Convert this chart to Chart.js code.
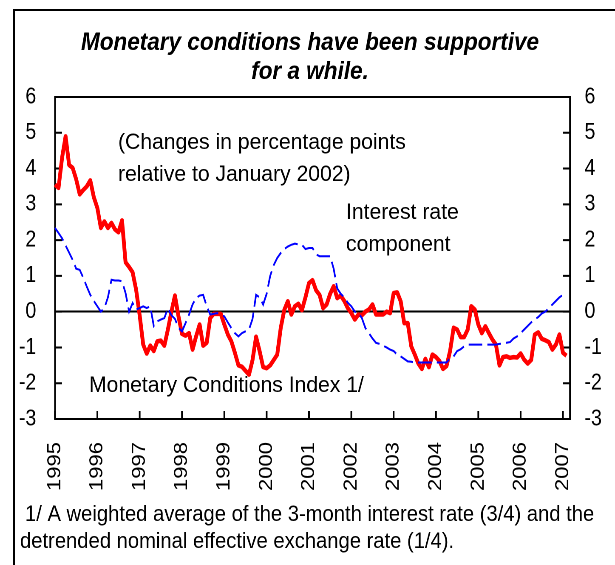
<!DOCTYPE html>
<html>
<head>
<meta charset="utf-8">
<script src="https://cdn.jsdelivr.net/npm/chart.js@4.4.1/dist/chart.umd.min.js"></script>
<style>
  html, body { margin: 0; padding: 0; background: #fff; }
  #page { position: relative; width: 615px; height: 565px; overflow: hidden; }
  #frame { position: absolute; left: 13px; top: 9px; width: 700px; height: 700px;
           border-left: 2px solid #000; border-top: 2px solid #000; }
  /* the original picture is squeezed sideways, so the whole chart is drawn wider and scaled back */
  #wrap { position: absolute; left: 0; top: 0; width: 724px; height: 565px;
          transform: scaleX(0.85); transform-origin: 0 0; }
</style>
</head>
<body>
<div id="page">
  <div id="frame"></div>
  <div id="wrap"><canvas id="grafico"></canvas></div>
</div>
<script>
// ---- data (monthly, Jan 1995 - Feb 2007) ----
const anos = ['1995', '1996', '1997', '1998', '1999', '2000', '2001',
              '2002', '2003', '2004', '2005', '2006', '2007'];
const nomesMes = ['Jan', 'Feb', 'Mar', 'Apr', 'May', 'Jun', 'Jul', 'Aug', 'Sep', 'Oct', 'Nov', 'Dec'];

const yTicks = [-3, -2, -1, 0, 1, 2, 3, 4, 5, 6];

// Monetary Conditions Index 1/
const mci = [
   3.55,  3.46,  4.30,  4.90,  4.10,  4.02,  3.70,  3.28,  3.40,  3.50,  3.67,  3.20,
   2.90,  2.34,  2.52,  2.34,  2.48,  2.30,  2.22,  2.55,  1.38,  1.25,  1.10,  0.61,
  -0.10, -0.92, -1.17, -0.95, -1.10, -0.83, -0.81, -0.95, -0.50,  0.00,  0.45, -0.13,
  -0.62, -0.67, -0.60, -1.06, -0.69, -0.36, -0.95, -0.87, -0.18, -0.06, -0.06, -0.06,
  -0.36, -0.64, -0.83, -1.15, -1.50, -1.54, -1.65, -1.76, -1.35, -0.70, -1.10, -1.55,
  -1.58, -1.50, -1.35, -1.20, -0.45,  0.05,  0.29, -0.08,  0.15,  0.22,  0.04,  0.40,
   0.80,  0.88,  0.60,  0.47,  0.10,  0.20,  0.50,  0.71,  0.38,  0.45,  0.30,  0.10,
  -0.04, -0.22, -0.08, -0.10,  0.00,  0.06,  0.20, -0.08, -0.08, -0.08,  0.00, -0.04,
   0.52,  0.54,  0.29, -0.32, -0.32, -0.97, -1.20, -1.45, -1.60, -1.32, -1.55, -1.20,
  -1.27, -1.38, -1.60, -1.52, -1.10, -0.45, -0.50, -0.71, -0.71, -0.50,  0.15,  0.06,
  -0.36, -0.60, -0.41, -0.60, -0.78, -0.92, -1.50, -1.27, -1.25, -1.29, -1.27, -1.28,
  -1.17, -1.34, -1.45, -1.35, -0.64, -0.58, -0.76, -0.80, -0.85, -1.06, -0.92, -0.64,
  -1.15, -1.23
];

// Interest rate component
const juros = [
   2.34,  2.20,  2.05,  1.85,  1.65,  1.45,  1.20,  1.17,  0.95,  0.70,  0.47,  0.30,
   0.15,  0.00,  0.10,  0.40,  0.89,  0.87,  0.87,  0.85,  0.52,  0.00,  0.24,  0.06,
   0.10,  0.15,  0.10,  0.15, -0.40, -0.27, -0.22, -0.18,  0.10, -0.10, -0.20, -0.45,
  -0.55, -0.32, -0.08,  0.20,  0.38,  0.45,  0.47,  0.15, -0.08, -0.06, -0.04, -0.10,
  -0.13, -0.30, -0.46, -0.60, -0.69, -0.60, -0.55, -0.50, -0.20,  0.47,  0.40,  0.20,
   0.50,  1.00,  1.30,  1.50,  1.64,  1.75,  1.82,  1.87,  1.90,  1.88,  1.87,  1.75,
   1.78,  1.78,  1.60,  1.55,  1.55,  1.55,  1.55,  1.20,  0.65,  0.50,  0.40,  0.25,
   0.15,  0.00, -0.04, -0.18, -0.46, -0.60, -0.75, -0.87, -0.90, -0.95, -1.00, -1.06,
  -1.10, -1.20, -1.25, -1.32, -1.39, -1.40, -1.42, -1.42, -1.42, -1.42, -1.42, -1.42,
  -1.42, -1.42, -1.42, -1.42, -1.30, -1.25, -1.10, -1.05, -0.97, -0.92, -0.92, -0.92,
  -0.92, -0.92, -0.92, -0.92, -0.92, -0.92, -0.90, -0.89, -0.87, -0.85, -0.75, -0.69,
  -0.60, -0.50, -0.40, -0.30, -0.22, -0.15, -0.05,  0.00,  0.10,  0.20,  0.30,  0.40,
   0.47
];

// month labels, the axis runs to March 2007
const meses = [];
anos.forEach(a => nomesMes.forEach(m => meses.push(m + ' ' + a)));
meses.length = 147;

// ---- layout (picture pixels) ----
const SX = 0.85;               // sideways squeeze of the picture
const px = x => x / SX;        // picture x -> canvas x
const FONTE = '"Liberation Sans", Arial, sans-serif';

function texto(ctx, str, x, y, size, estilo, alinhar, esticar) {
    ctx.save();
    ctx.font = estilo + ' ' + size + 'px ' + FONTE;
    ctx.fillStyle = '#000';
    ctx.textAlign = alinhar;
    ctx.textBaseline = 'alphabetic';
    ctx.translate(px(x), y);
    ctx.scale(esticar, 1);
    ctx.fillText(str, 0, 0);
    ctx.restore();
}

const moldura = {
    id: 'moldura',
    beforeDatasetsDraw(chart) {
        const { ctx, chartArea: a, scales } = chart;
        ctx.save();
        ctx.strokeStyle = '#000';
        ctx.lineWidth = 2;
        ctx.strokeRect(a.left, a.top, a.right - a.left, a.bottom - a.top);
        ctx.beginPath();
        yTicks.forEach(v => {
            const y = scales.y.getPixelForValue(v);
            ctx.moveTo(a.left, y);  ctx.lineTo(a.left + px(7), y);
            ctx.moveTo(a.right, y); ctx.lineTo(a.right - px(7), y);
        });
        meses.forEach((m, i) => {
            if (i % 12 !== 0) return;
            const x = scales.x.getPixelForValue(i);
            ctx.moveTo(x, a.bottom); ctx.lineTo(x, a.bottom - 8);
        });
        ctx.stroke();
        ctx.restore();
    },
    afterDraw(chart) {
        const ctx = chart.ctx;
        // title
        texto(ctx, 'Monetary conditions have been supportive', 310, 50, 25, 'italic bold', 'center', 1.06);
        texto(ctx, 'for a while.', 310, 79, 25, 'italic bold', 'center', 1.06);
        // notes inside the plot
        texto(ctx, '(Changes in percentage points', 118, 149, 22, '', 'left', 1.13);
        texto(ctx, 'relative to January 2002)', 118, 181, 22, '', 'left', 1.13);
        texto(ctx, 'Interest rate', 346, 219, 22, '', 'left', 1.13);
        texto(ctx, 'component', 346, 251, 22, '', 'left', 1.13);
        texto(ctx, 'Monetary Conditions Index 1/', 89, 392, 22, '', 'left', 1.13);
        // footnote
        texto(ctx, '1/ A weighted average of the 3-month interest rate (3/4) and the', 25, 521, 22, '', 'left', 1.08);
        texto(ctx, 'detrended nominal effective exchange rate (1/4).', 20, 548, 22, '', 'left', 1.08);
    }
};

const ctx = document.getElementById('grafico').getContext('2d');
new Chart(ctx, {
    type: 'line',
    data: {
        labels: meses,
        datasets: [{
            label: 'Interest rate component',
            data: juros,
            borderColor: '#0000ff',
            borderWidth: 2,
            borderDash: [16, 6],
            pointRadius: 0,
            tension: 0
        }, {
            label: 'Monetary Conditions Index 1/',
            data: mci,
            borderColor: '#ff0000',
            borderWidth: 4.5,
            borderJoinStyle: 'round',
            pointRadius: 0,
            tension: 0
        }]
    },
    options: {
        responsive: true,
        maintainAspectRatio: false,
        animation: false,
        devicePixelRatio: 2,
        layout: { padding: { top: 97, bottom: 56, left: 0, right: 0 } },
        plugins: { legend: { display: false }, tooltip: { enabled: false } },
        scales: {
            x: {
                offset: false,
                grid: { display: false, drawTicks: false },
                border: { display: false },
                ticks: {
                    autoSkip: false,
                    minRotation: 90,
                    maxRotation: 90,
                    padding: 23,
                    color: '#000',
                    font: { family: FONTE, size: 22 },
                    callback: (v, i) => (i % 12 === 0 ? anos[i / 12] : '')
                },
                afterFit: s => { s.height = 90; }
            },
            y: {
                position: 'left',
                min: -3, max: 6,
                grid: {
                    drawTicks: false,
                    lineWidth: 2,
                    color: c => (c.tick && c.tick.value === 0 ? '#000' : 'rgba(0,0,0,0)')
                },
                border: { display: false },
                ticks: { stepSize: 1, padding: 22, color: '#000', font: { family: FONTE, size: 23 } },
                afterFit: s => { s.width = px(55); }
            },
            y2: {
                position: 'right',
                display: true,
                min: -3, max: 6,
                grid: { display: false, drawTicks: false },
                border: { display: false },
                ticks: { stepSize: 1, padding: 17, color: '#000', font: { family: FONTE, size: 23 } },
                afterFit: s => { s.width = 724 - px(570); }
            }
        }
    },
    plugins: [moldura]
});
</script>
</body>
</html>
